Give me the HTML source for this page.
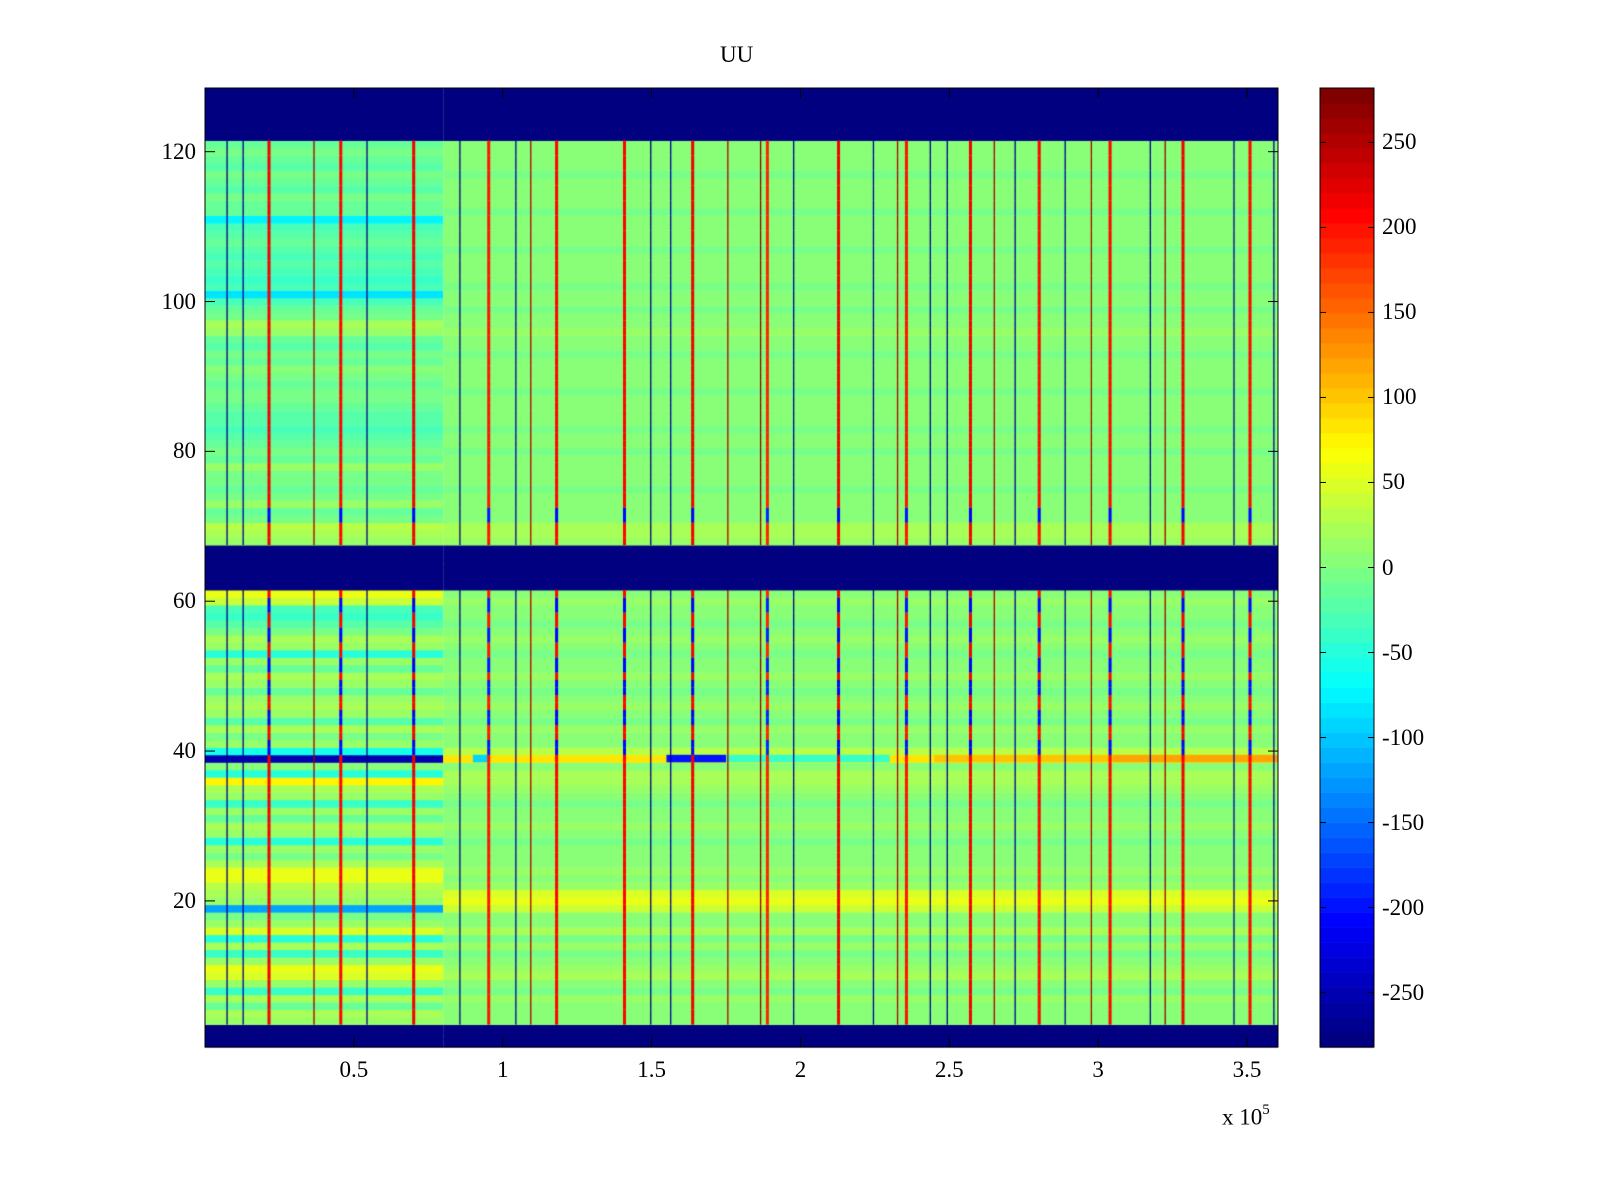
<!DOCTYPE html>
<html><head><meta charset="utf-8"><style>
html,body{margin:0;padding:0;background:#fff;}
#wrap{position:relative;width:1600px;height:1200px;font-family:"Liberation Serif",serif;font-size:23px;color:#000;}
.lbl{position:absolute;white-space:nowrap;}
canvas,svg{position:absolute;left:0;top:0;}
</style></head><body>
<div id="wrap">
<canvas id="hm" width="1600" height="1200"></canvas>
<svg id="ax" width="1600" height="1200"></svg>
<div class="lbl" style="left:720px;top:42px">UU</div>
</div>
<script>
// ---- data ----
const rowsLeft = [-282,-282,-282,10,20,-10,20,-40,15,50,55,10,-40,20,-50,45,10,0,-120,10,20,30,55,60,20,0,15,-45,10,20,-10,15,-40,10,20,75,-50,5,-250,-60,10,0,20,-20,15,20,10,-10,15,20,-10,10,-50,10,20,0,-20,-40,-30,40,60,
-282,-282,-282,-282,-282,-282,
10,20,30,0,-10,10,0,-10,-5,0,10,-10,0,-15,-20,-30,-20,-25,-10,-5,0,-10,-5,5,-10,0,-20,-10,10,20,0,-10,-30,-80,-30,-40,-30,-20,-35,-20,-10,-20,-30,-75,-10,-10,0,-20,-10,-5,-20,-10,0,-10,
-282,-282,-282,-282,-282,-282,-282];
const rowsRight = [-282,-282,-282,5,8,2,12,-2,8,18,12,2,-2,12,-8,18,2,8,40,55,45,12,8,12,2,8,2,-2,8,12,2,8,-2,2,12,25,25,2,80,30,8,2,12,-2,8,12,2,-2,8,12,2,8,-2,2,12,2,-2,8,2,12,8,
-282,-282,-282,-282,-282,-282,
15,20,25,8,2,8,2,-2,8,2,8,2,-2,8,2,-2,8,2,8,2,-2,8,2,8,2,-2,8,2,12,8,2,-2,8,2,-2,8,2,8,2,-2,8,2,8,2,-2,8,2,8,2,-2,8,2,8,2,
-282,-282,-282,-282,-282,-282,-282];
const leftEnd = 0.8;          // x (×1e5) where left regime ends
const xMax = 3.604;
const row39Start = [0.90, 1.55, 1.75, 2.45, 3.05];
const row39End   = [0.95, 1.75, 2.30, 3.05, 3.604];
const row39Val   = [-90, -200, -40, 100, 120];
const stripeX = [0.215,0.456,0.701,0.953,1.181,1.409,1.638,1.889,2.128,2.356,2.571,2.802,3.040,3.285,3.510];
const stripeVal = [215,205,220,200,210,205,215,190,220,200,215,205,210,215,210];
const stripeBlueRows = [40,41,44,45,48,49,51,52,55,56,59,60,71,72];
const lineX = [0.074,0.128,0.366,0.544,0.856,1.044,1.094,1.497,1.564,1.756,1.866,1.977,2.245,2.326,2.436,2.493,2.651,2.721,2.889,2.977,3.175,3.225,3.456,3.590];
const lineVal = [-275,-270,260,-275,-275,-260,250,-275,-260,250,270,-270,-270,250,-265,-270,250,-270,-265,250,-270,260,-265,-270];
const cbarTicks = [-250,-200,-150,-100,-50,0,50,100,150,200,250];
const xTicks = [0.5,1,1.5,2,2.5,3,3.5];
const yTicks = [20,40,60,80,100,120];

// ---- scales ----
const L=205,R=1278,T=88,B=1047;
const cMin=-282,cMax=282;
const xs = v => L + v/xMax*(R-L);
const ys = r => B - (r-0.5)/128*(B-T);
function jet(v){
  let t=(v-cMin)/(cMax-cMin); t=Math.max(0,Math.min(1,t));
  t=Math.floor(t*63.999)/63;
  const f=x=>Math.max(0,Math.min(1,x));
  const r=f(1.5-Math.abs(4*t-3)), g=f(1.5-Math.abs(4*t-2)), b=f(1.5-Math.abs(4*t-1));
  return `rgb(${Math.round(r*255)},${Math.round(g*255)},${Math.round(b*255)})`;
}
const ctx=document.getElementById('hm').getContext('2d');
for(let i=0;i<128;i++){
  const r=i+1, y0=ys(r+0.5), y1=ys(r-0.5);
  ctx.fillStyle=jet(rowsLeft[i]); ctx.fillRect(L,y0,xs(leftEnd)-L,y1-y0+0.5);
  ctx.fillStyle=jet(rowsRight[i]); ctx.fillRect(xs(leftEnd),y0,R-xs(leftEnd),y1-y0+0.5);
}
for(let k=0;k<row39Start.length;k++){
  ctx.fillStyle=jet(row39Val[k]);
  ctx.fillRect(xs(row39Start[k]),ys(39.5),xs(row39End[k])-xs(row39Start[k]),7.5);
}
function isBlank(r){return r<=3||(r>=62&&r<=67)||r>=122;}
for(let s=0;s<stripeX.length;s++){
  for(let r=1;r<=128;r++){
    if(isBlank(r))continue;
    const v = stripeBlueRows.includes(r)? -stripeVal[s] : stripeVal[s];
    ctx.fillStyle=jet(v);
    ctx.fillRect(xs(stripeX[s])-1.5,ys(r+0.5),3,7.6);
  }
}
for(let s=0;s<lineX.length;s++){
  ctx.fillStyle=jet(lineVal[s]);
  for(let r=1;r<=128;r++){ if(isBlank(r))continue; ctx.fillRect(xs(lineX[s])-0.6,ys(r+0.5),1.3,7.6); }
}
// colorbar
const CL=1320,CR=1374;
for(let k=0;k<64;k++){
  const v=cMin+(k+0.5)/64*(cMax-cMin);
  ctx.fillStyle=jet(v);
  const y1=B-k/64*(B-T), y0=B-(k+1)/64*(B-T);
  ctx.fillRect(CL,y0,CR-CL,y1-y0+0.6);
}
// ---- axes ----
const svg=document.getElementById('ax'), NS='http://www.w3.org/2000/svg';
function el(tag,attrs,parent){const e=document.createElementNS(NS,tag);for(const k in attrs)e.setAttribute(k,attrs[k]);(parent||svg).appendChild(e);return e;}
const frame=el('rect',{x:L,y:T,width:R-L,height:B-T,fill:'none',stroke:'#000','stroke-width':1});


const cframe=el('rect',{x:CL,y:T,width:CR-CL,height:B-T,fill:'none',stroke:'#000','stroke-width':1});


const wrap=document.getElementById('wrap');
function label(txt,x,y,align,name){
  const d=document.createElement('div');d.className='lbl';d.textContent=txt;
  
  
  d.style.top=(y-13)+'px';
  if(align==='right'){d.style.right=(1600-x)+'px';}
  else if(align==='center'){d.style.left=x+'px';d.style.transform='translateX(-50%)';}
  else d.style.left=x+'px';
  wrap.appendChild(d);
}
xTicks.forEach(t=>{
  const x=xs(t);
  el('line',{x1:x,x2:x,y1:B,y2:B-10,stroke:'#000'});
  el('line',{x1:x,x2:x,y1:T,y2:T+10,stroke:'#000'});
  label(String(t),x,1070,'center','x-tick-label');
});
yTicks.forEach(t=>{
  const y=ys(t);
  el('line',{x1:L,x2:L+10,y1:y,y2:y,stroke:'#000'});
  el('line',{x1:R,x2:R-10,y1:y,y2:y,stroke:'#000'});
  label(String(t),196,y,'right','y-tick-label');
});
cbarTicks.forEach(t=>{
  const y=B-(t-cMin)/(cMax-cMin)*(B-T);
  el('line',{x1:CL,x2:CL+6,y1:y,y2:y,stroke:'#000'});
  el('line',{x1:CR,x2:CR-6,y1:y,y2:y,stroke:'#000'});
  label(String(t),1382,y,'left','colorbar-tick-label');
});
</script>
<div class="lbl" style="left:1222px;top:1104px;font-size:23px">x 10<sup style="font-size:15px;position:relative;top:-2px">5</sup></div>
</body></html>
